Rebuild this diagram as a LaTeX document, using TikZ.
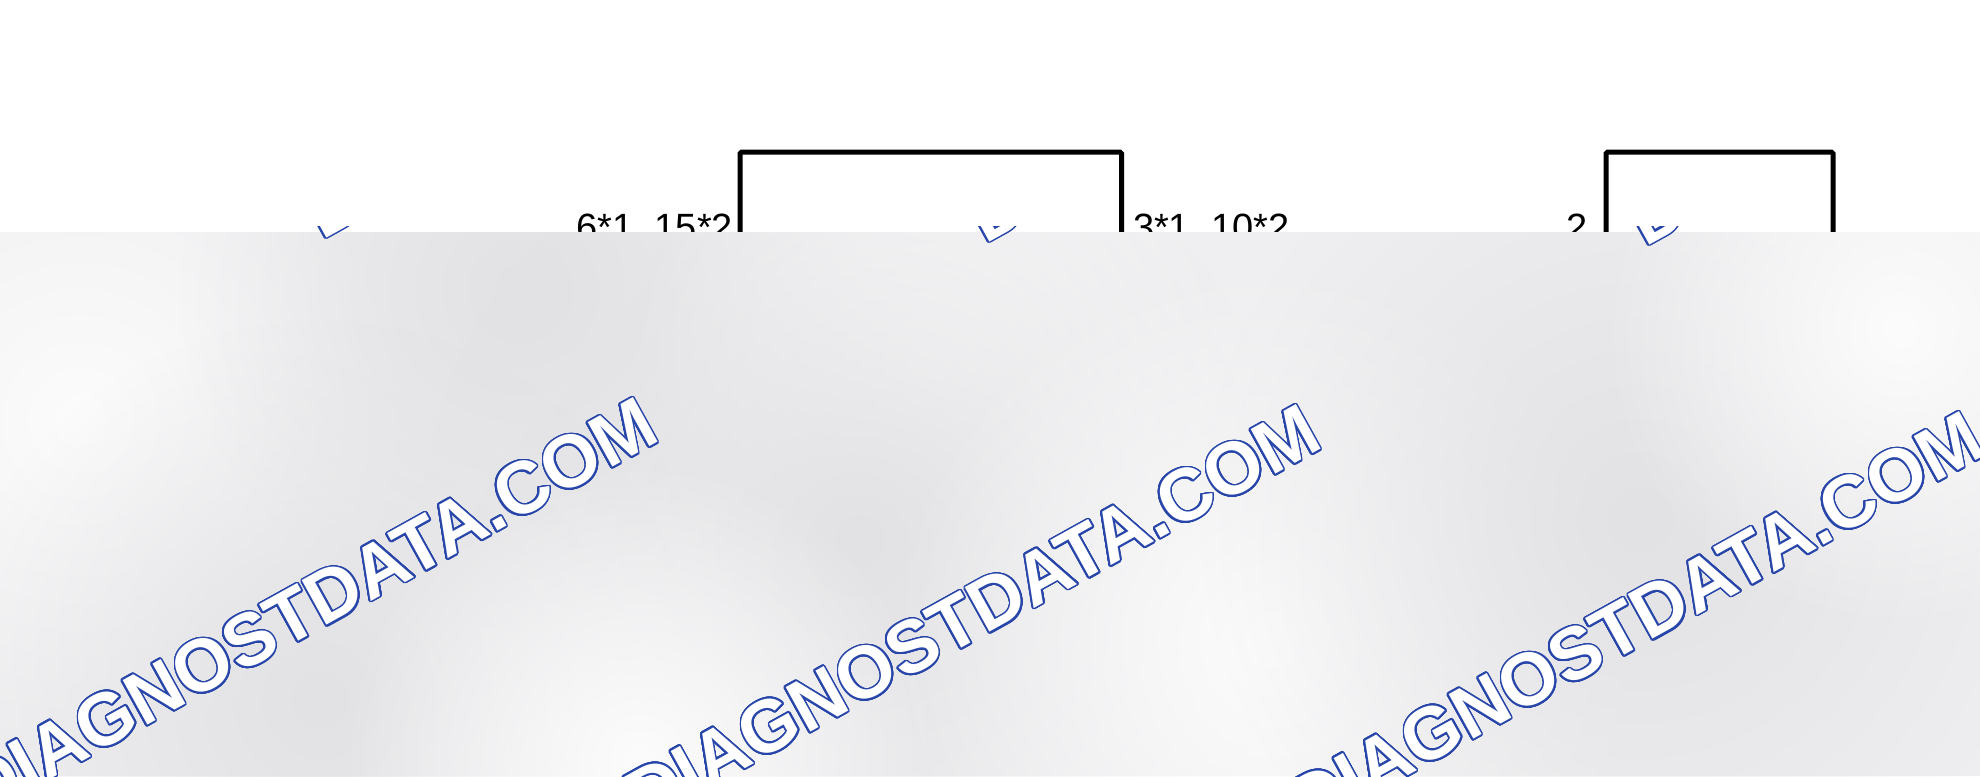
\documentclass[tikz,border=0pt]{standalone}
\usepackage{fontspec}
\setmainfont{Liberation Sans}
\usepackage[copies]{contour}
\usetikzlibrary{fadings}
\contourlength{0.85pt}
\contournumber{32}
\definecolor{graybase}{RGB}{239,239,241}
\definecolor{graydark}{RGB}{226,226,229}
\definecolor{graylight}{RGB}{252,252,252}
\definecolor{wmblue}{RGB}{40,70,170}
\tikzfading[name=softblob, inner color=transparent!0, outer color=transparent!100]
\tikzset{
  boxst/.style={draw=black, line width=2.5pt, fill=white, inner sep=0pt, outer sep=0pt, rounded corners=0.8pt},
  lbl/.style={inner sep=0pt, outer sep=0pt, font=\fontsize{19pt}{22pt}\selectfont},
  wm/.style={inner sep=0pt, outer sep=0pt, text=white, rotate=29, font=\fontsize{37pt}{41pt}\selectfont\bfseries},
  blob/.style={path fading=softblob, fit fading=true}
}
\begin{document}
\begin{tikzpicture}[x=0.5pt,y=-0.5pt]
\useasboundingbox (0,0) rectangle (1980,776);
\fill[white] (0,0) rectangle (1980,776);
% boxes
\node[boxst, anchor=north west, minimum width=190.75pt, minimum height=174pt] (box1) at (740,152) {};
\node[boxst, anchor=north west, minimum width=113.5pt, minimum height=174pt] (box2) at (1606,152) {};
% labels
\node[lbl, anchor=base east] (l1) at (733,240) {6*1, 15*2};
\node[lbl, anchor=base west] (l2) at (1133,240) {3*1, 10*2};
\node[lbl, anchor=base east] (l3) at (1588,240) {2};
% gray overlay
\begin{scope}
\clip (0,232) rectangle (1980,776);
\fill[graybase] (0,232) rectangle (1980,776);
\fill[graylight, blob] (80,420) circle[radius=170pt];
\fill[graydark, blob] (520,290) circle[radius=170pt];
\fill[graylight, blob] (930,360) circle[radius=150pt];
\fill[graydark, blob] (860,540) circle[radius=220pt];
\fill[graydark, blob] (320,700) circle[radius=190pt];
\fill[graylight, blob] (1270,640) circle[radius=190pt];
\fill[graydark, blob] (1640,520) circle[radius=220pt];
\fill[graylight, blob] (1900,330) circle[radius=150pt];
\fill[graylight, blob] (640,760) circle[radius=150pt];
% watermarks
\node[wm, anchor=base east] (wm1) at (662,440) {\contour{wmblue}{DIAGNOSTDATA.COM}};
\node[wm, anchor=base east] (wm2) at (1325,447) {\contour{wmblue}{DIAGNOSTDATA.COM}};
\node[wm, anchor=base east] (wm3) at (1988,454) {\contour{wmblue}{DIAGNOSTDATA.COM}};
\end{scope}
% fragments of the row above
\begin{scope}
\clip (0,226) rectangle (1980,250);
\node[wm, anchor=base west] (wa1) at (322,240) {\contour{wmblue}{DIAGNOSTDATA.COM}};
\node[wm, anchor=base west] (wa2) at (985,244) {\contour{wmblue}{DIAGNOSTDATA.COM}};
\node[wm, anchor=base west] (wa3) at (1645,247) {\contour{wmblue}{DIAGNOSTDATA.COM}};
\end{scope}
\end{tikzpicture}
\end{document}
